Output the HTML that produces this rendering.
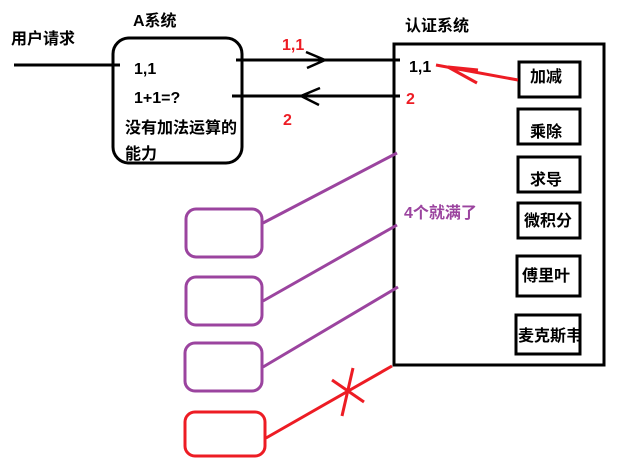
<!DOCTYPE html>
<html><head><meta charset="utf-8"><style>body{margin:0;background:#fff}svg{display:block}text{font-family:"Liberation Sans","Noto Sans CJK SC",sans-serif;font-weight:bold}</style></head><body>
<svg width="618" height="460" xmlns="http://www.w3.org/2000/svg">
<g fill="none" stroke="#000" stroke-width="3">
<rect x="113" y="38" width="129" height="125" rx="16"/>
<line x1="14" y1="65" x2="120" y2="65"/>
<line x1="236" y1="60" x2="400" y2="60"/>
<polyline points="306,52 325,60 307,68" stroke-width="2.5"/>
<line x1="232" y1="96" x2="400" y2="96"/>
<polyline points="320,88 301,96 319,105" stroke-width="2.5"/>
<rect x="394" y="44" width="210" height="321"/>
<rect x="519" y="62" width="61" height="35"/>
<rect x="518" y="109" width="62" height="35"/>
<rect x="518" y="157" width="62" height="35"/>
<rect x="518" y="203" width="62" height="35"/>
<rect x="517" y="256" width="63" height="40"/>
<rect x="516" y="315" width="64" height="39"/>
</g>
<g fill="none" stroke="#9b449f" stroke-width="3">
<rect x="186" y="209" width="76" height="48" rx="10"/>
<rect x="186" y="277" width="76" height="48" rx="10"/>
<rect x="185" y="343" width="77" height="48" rx="10"/>
<line x1="263" y1="223" x2="397" y2="153"/>
<line x1="263" y1="301" x2="397" y2="225"/>
<line x1="263" y1="367" x2="398" y2="287"/>
</g>
<g fill="none" stroke="#ed1c24" stroke-width="3">
<rect x="185" y="412" width="80" height="44" rx="10"/>
<line x1="266" y1="438" x2="392" y2="366"/>
<line x1="353" y1="368" x2="342" y2="416"/>
<line x1="332" y1="380" x2="364" y2="402"/>
<line x1="518" y1="80" x2="436" y2="65"/>
<line x1="448" y1="67" x2="478" y2="70"/>
<line x1="448" y1="67" x2="477" y2="83"/>
</g>
<g font-size="16" fill="#000">
<text x="11" y="44">用户请求</text>
<text x="133" y="26">A系统</text>
<text x="134" y="74">1,1</text>
<text x="134" y="103">1+1=?</text>
<text x="125" y="133">没有加法运算的</text>
<text x="125" y="159">能力</text>
<text x="405" y="31">认证系统</text>
<text x="409" y="72">1,1</text>
<text x="530" y="82">加减</text>
<text x="530" y="137">乘除</text>
<text x="530" y="185">求导</text>
<text x="524" y="226">微积分</text>
<text x="522" y="281">傅里叶</text>
<text x="518" y="341">麦克斯韦</text>
</g>
<g font-size="16" fill="#ed1c24">
<text x="282" y="50">1,1</text>
<text x="283" y="125">2</text>
<text x="406" y="104">2</text>
</g>
<text x="404" y="218" font-size="16" fill="#9b449f">4个就满了</text>
</svg>
</body></html>
